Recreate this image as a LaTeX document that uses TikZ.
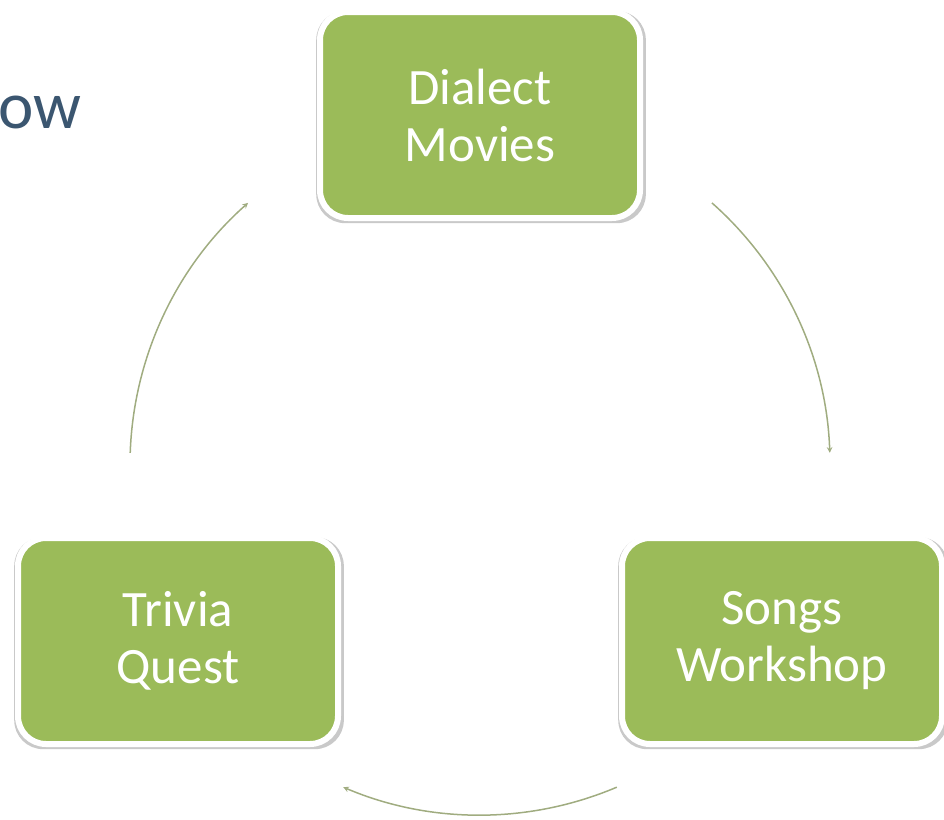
\documentclass[tikz,border=0pt]{standalone}
\usepackage{fontspec}
\setmainfont{Carlito}
\usetikzlibrary{arrows, shadows}
\definecolor{boxgreen}{RGB}{155,187,89}
\definecolor{arcgray}{RGB}{160,172,128}
\definecolor{titleblue}{RGB}{59,86,112}

\begin{document}
\begin{tikzpicture}[x=1pt, y=1pt,
    stagebox/.style={draw=white, line width=6pt, fill=boxgreen, rounded corners=28pt,
      minimum width=320pt, minimum height=206pt, text=white, align=center,
      font=\fontsize{51}{57}\selectfont,
      drop shadow={shadow xshift=1pt, shadow yshift=-2pt, shadow scale=1.03,
        fill=black!70, opacity=0.3}},
    cyclearc/.style={draw=arcgray, line width=1.5pt, ->, >=stealth}]
      \useasboundingbox (0,0) rectangle (944,-819);

      % title, cut off at the left edge
      \node[text=titleblue, font=\fontsize{67}{80}\selectfont, anchor=base west, inner sep=0pt] (title) at (-2,-128) {ow};

      \node[stagebox] (movies) at (480,-115) {Dialect\\Movies};
      \node[stagebox] (songs) at (782,-641) {Songs\\Workshop};
      \node[stagebox] (trivia) at (178,-641) {Trivia\\Quest};

      % the cycle arcs all lie on one circle
      \coordinate (hub) at (480,-465);
      \coordinate (movies-out) at ([shift={(48.5:350)}]hub);
      \coordinate (songs-out) at ([shift={(-67:350)}]hub);
      \coordinate (trivia-out) at ([shift={(178:350)}]hub);

      \draw[cyclearc] (movies-out) arc[start angle=48.5, end angle=2, radius=350];
      \draw[cyclearc] (songs-out) arc[start angle=-67, end angle=-113, radius=350];
      \draw[cyclearc] (trivia-out) arc[start angle=178, end angle=131.5, radius=350];

\end{tikzpicture}
\end{document}
